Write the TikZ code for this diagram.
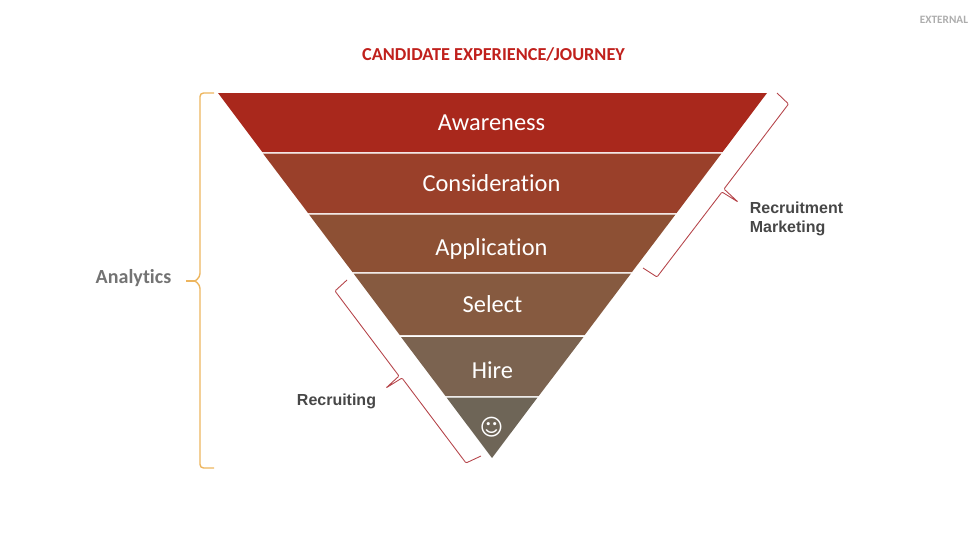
\documentclass[tikz,border=0pt]{standalone}
\usepackage{fontspec}
\usepackage{xcolor}
\usepackage{tikz}
\setmainfont[Ligatures=NoCommon]{Carlito}
\newfontfamily\armfont{Liberation Sans}
\newfontfamily\symfont{DejaVu Sans}
\definecolor{titlered}{HTML}{C0201C}
\definecolor{bandA}{HTML}{A9281C}
\definecolor{bandB}{HTML}{9A402A}
\definecolor{bandC}{HTML}{8D5034}
\definecolor{bandD}{HTML}{865A40}
\definecolor{bandE}{HTML}{7B6350}
\definecolor{bandF}{HTML}{6E6557}
\definecolor{bracketred}{HTML}{B5444A}
\definecolor{bracketgold}{HTML}{EDB55E}
\tikzset{
  bandlabel/.style={text=white,font=\fontsize{13.9}{16}\selectfont,inner sep=0pt},
  sidelabel/.style={text=black!72,font=\armfont\bfseries\fontsize{9.1}{10.8}\selectfont,align=left,inner sep=0pt},
  redbracket/.style={draw=bracketred,line width=0.5pt,rounded corners=0.6pt},
  goldbracket/.style={draw=bracketgold,line width=0.8pt,rounded corners=2pt}
}
\begin{document}
\begin{tikzpicture}[x=0.02cm,y=-0.02cm]
  \useasboundingbox (0,0) rectangle (980,551);
  \node[text=black!32,font=\bfseries\fontsize{6.4}{7}\selectfont,inner sep=0pt] (external) at (944,20) {EXTERNAL};
  \node[text=titlered,font=\bfseries\fontsize{10.4}{12}\selectfont,inner sep=0pt] (title) at (493.5,55) {CANDIDATE EXPERIENCE/JOURNEY};
  % funnel
  \fill[bandA] (218,93) -- (767,93) -- (722.6,152) -- (262.3,152) -- cycle;
  \fill[bandB] (263,153.5) -- (721.5,153.5) -- (676.6,213) -- (308,213) -- cycle;
  \fill[bandC] (309,214.5) -- (675.5,214.5) -- (632,272) -- (352.4,272) -- cycle;
  \fill[bandD] (353.5,273.5) -- (631,273.5) -- (584.7,335) -- (399.7,335) -- cycle;
  \fill[bandE] (401,337) -- (583.5,337) -- (538.7,396) -- (445.5,396) -- cycle;
  \fill[bandF] (446.5,397.5) -- (537.5,397.5) -- (492,458) -- cycle;
  \node[bandlabel] (awareness) at (491.5,123) {Awareness};
  \node[bandlabel] (consideration) at (491.5,183) {Consideration};
  \node[bandlabel] (application) at (491.5,249) {Application};
  \node[bandlabel] (select) at (492.5,304) {Select};
  \node[bandlabel] (hire) at (492.5,370) {Hire};
  \node[text=white,font=\symfont\fontsize{13}{16}\selectfont,inner sep=0pt] (smiley) at (491.5,427) {☺};
  % brackets
  \node[text=black!55,font=\bfseries\fontsize{11.4}{13}\selectfont,inner sep=0pt] (analytics) at (133.5,278) {Analytics};
  \node[sidelabel,anchor=north west] (marketing) at (749.5,202) {Recruitment\\Marketing};
  \node[sidelabel,anchor=center] (recruiting) at (336.5,401) {Recruiting};
  \coordinate (goldtip) at (186,281);
  \coordinate (martip) at (738,202);
  \coordinate (rectip) at (386,388);
  \draw[goldbracket] (214,93) -- (200,93) -- (200,277) -- (195,281) (195,281) -- (200,285) -- (200,468) -- (214,468);
  \draw[goldbracket] (goldtip) -- (195,281);
  \draw[redbracket] (777,93) -- (788.5,104) -- (724,189) -- (martip) -- (722,192) -- (657,277) -- (643,268);
  \draw[redbracket] (347,280) -- (335,291) -- (399,376) -- (rectip) -- (402,378) -- (466,463) -- (481,456);
\end{tikzpicture}
\end{document}
